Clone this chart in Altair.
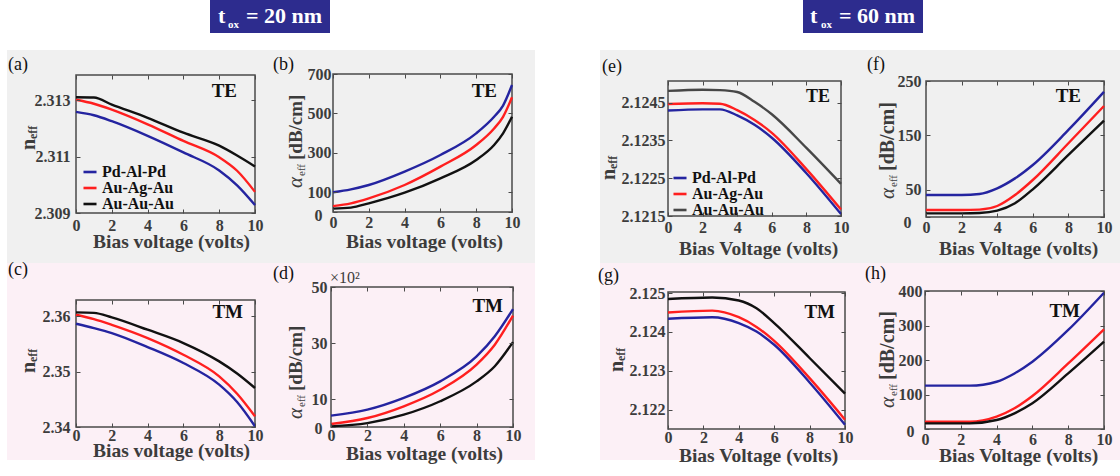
import altair as alt
import pandas as pd

SERIF = "Liberation Serif"
SERIES = ["Pd-Al-Pd", "Au-Ag-Au", "Au-Au-Au"]
LINE_COLORS = ["#2424a0", "#ff1f1f", "#111111"]
LINE_COLORS_E = ["#2424a0", "#ff1f1f", "#474747"]
XTICKS = [0, 2, 4, 6, 8, 10]

# (a) TE, t_ox = 20 nm, n_eff
A_X = [0, 1, 2, 4, 6, 8, 9, 10]
A_PD = [2.31259, 2.31247, 2.31226, 2.31174, 2.31115, 2.31051, 2.30998, 2.30928]
A_AG = [2.31302, 2.31288, 2.31267, 2.31215, 2.31156, 2.31098, 2.31050, 2.30975]
A_AU = [2.31311, 2.31310, 2.31285, 2.31238, 2.31185, 2.31139, 2.31104, 2.31065]
A_YTICKS = [2.309, 2.311, 2.313]

# (b) TE, t_ox = 20 nm, alpha_eff [dB/cm]
B_X = [0, 1, 2, 4, 6, 8, 9, 9.5, 10]
B_PD = [100, 115, 137, 205, 289, 399, 483, 540, 644]
B_AG = [30, 44, 69, 137, 230, 340, 424, 483, 582]
B_AU = [17, 22, 44, 98, 171, 264, 340, 399, 483]
B_YTICKS = [0, 100, 300, 500, 700]

# (c) TM, t_ox = 20 nm, n_eff
C_X = [0, 1, 2, 4, 6, 8, 9, 10]
C_PD = [2.35862, 2.35784, 2.35694, 2.35441, 2.35153, 2.34763, 2.34450, 2.34013]
C_AG = [2.36024, 2.35946, 2.35843, 2.35604, 2.35303, 2.34913, 2.34600, 2.34192]
C_AU = [2.36067, 2.36058, 2.35977, 2.35754, 2.35514, 2.35183, 2.34965, 2.34703]
C_YTICKS = [2.34, 2.35, 2.36]

# (d) TM, t_ox = 20 nm, alpha_eff (x10^2 dB/cm)
D_X = [0, 2, 4, 6, 8, 9, 10]
D_PD = [4.05, 6.2, 10.4, 16.3, 25.2, 32.4, 42.1]
D_AG = [1.07, 3.2, 7.4, 13.3, 22.3, 29.4, 39.8]
D_AU = [0.24, 1.4, 4.4, 9.2, 16.3, 21.7, 30.3]
D_YTICKS = [0, 10, 30, 50]

# (e) TE, t_ox = 60 nm, n_eff
E_X = [0, 2, 3, 4, 5, 6, 8, 10]
E_PD = [2.12429, 2.12432, 2.12432, 2.12416, 2.12391, 2.12357, 2.12263, 2.12155]
E_AG = [2.12446, 2.12448, 2.12447, 2.12430, 2.12404, 2.12370, 2.12274, 2.12167]
E_AU = [2.12481, 2.12484, 2.12483, 2.12478, 2.12452, 2.12419, 2.12330, 2.12235]
E_YTICKS = [2.1215, 2.1225, 2.1235, 2.1245]

# (f) TE, t_ox = 60 nm, alpha_eff [dB/cm]
F_X = [0, 2, 3, 4, 5, 6, 8, 10]
F_PD = [40.4, 40.4, 42.3, 52.7, 71.0, 95.6, 160, 230]
F_AG = [12.9, 12.9, 13.5, 20.2, 40.4, 68.0, 135.5, 204]
F_AU = [6.7, 6.7, 7.3, 11.6, 25.2, 50.9, 114, 177]
F_YTICKS = [0, 50, 150, 250]

# (g) TM, t_ox = 60 nm, n_eff
G_X = [0, 2.5, 4, 5, 6, 8, 10]
G_PD = [2.12434, 2.12438, 2.12423, 2.12401, 2.12367, 2.12270, 2.12161]
G_AG = [2.12450, 2.12455, 2.12438, 2.12413, 2.12377, 2.12281, 2.12174]
G_AU = [2.12485, 2.12489, 2.12481, 2.12461, 2.12423, 2.12333, 2.12241]
G_YTICKS = [2.122, 2.123, 2.124, 2.125]

# (h) TM, t_ox = 60 nm, alpha_eff [dB/cm]
H_X = [0, 2.5, 4, 5, 6, 8, 10]
H_PD = [125.6, 125.6, 137, 161, 195, 287, 395]
H_AG = [21, 21, 35.7, 60, 95.6, 190, 289]
H_AU = [16.4, 16.4, 26, 45.4, 74.5, 161, 253]
H_YTICKS = [0, 100, 200, 300, 400]

AXIS_GRAY = "#3c3c3c"
FRAME = "#4a4a4a"
W, H = 1120, 476

PANELS = [
    dict(xs=A_X, ys=[A_PD, A_AG, A_AU], ydom=[2.309, 2.3139], yt=A_YTICKS, fmt=".3f",
         box=(76, 255, 75, 213), xlp=4, ylp=6, z=None, xtitle="Bias voltage (volts)",
         tx=171, tb=247, colors=LINE_COLORS, legend=(82, 164)),
    dict(xs=B_X, ys=[B_PD, B_AG, B_AU], ydom=[0, 700], yt=B_YTICKS, fmt="d",
         box=(333, 512, 74, 212), xlp=2, ylp=2, z=(11, 3), xtitle="Bias voltage (volts)",
         tx=424, tb=247, colors=LINE_COLORS, legend=None),
    dict(xs=C_X, ys=[C_PD, C_AG, C_AU], ydom=[2.34, 2.3629], yt=C_YTICKS, fmt=".2f",
         box=(76, 255, 300, 427), xlp=0, ylp=6, z=None, xtitle="Bias voltage (volts)",
         tx=171, tb=456, colors=LINE_COLORS, legend=None),
    dict(xs=D_X, ys=[D_PD, D_AG, D_AU], ydom=[0, 50], yt=D_YTICKS, fmt="d",
         box=(331, 513, 287, 427), xlp=0, ylp=4, z=(9, 1), xtitle="Bias voltage (volts)",
         tx=424, tb=459, colors=LINE_COLORS, legend=None),
    dict(xs=E_X, ys=[E_PD, E_AG, E_AU], ydom=[2.1215, 2.12507], yt=E_YTICKS, fmt=".4f",
         box=(668, 841, 81, 216), xlp=3, ylp=3, z=None, xtitle="Bias Voltage (volts)",
         tx=758, tb=254, colors=LINE_COLORS_E, legend=(672, 170)),
    dict(xs=F_X, ys=[F_PD, F_AG, F_AU], ydom=[0, 250], yt=F_YTICKS, fmt="d",
         box=(926, 1104, 81, 217), xlp=2, ylp=5, z=(15, 5), xtitle="Bias Voltage (volts)",
         tx=1018, tb=254, colors=LINE_COLORS, legend=None),
    dict(xs=G_X, ys=[G_PD, G_AG, G_AU], ydom=[2.1215, 2.12503], yt=G_YTICKS, fmt=".3f",
         box=(668, 845, 292, 429), xlp=0, ylp=3, z=None, xtitle="Bias Voltage (volts)",
         tx=758, tb=461, colors=LINE_COLORS, legend=None),
    dict(xs=H_X, ys=[H_PD, H_AG, H_AU], ydom=[0, 400], yt=H_YTICKS, fmt="d",
         box=(925, 1104, 291, 429), xlp=2, ylp=3, z=(11, 2), xtitle="Bias Voltage (volts)",
         tx=1018, tb=461, colors=LINE_COLORS, legend=None),
]


def one():
    return pd.DataFrame({"k": [0]})


def rect(x0, x1, y0, y1, color):
    return alt.Chart(one()).mark_rect(color=color).encode(
        x=alt.value(x0), x2=alt.value(x1), y=alt.value(y0), y2=alt.value(y1))


def txt(s, x, y, size, weight="bold", angle=0, align="left", color="#000000", style="normal"):
    return alt.Chart(pd.DataFrame({"t": [s]})).mark_text(
        font=SERIF, fontSize=size, fontWeight=weight, angle=angle, align=align,
        baseline="alphabetic", color=color, fontStyle=style
    ).encode(x=alt.value(x), y=alt.value(y), text="t:N")


def tick_axis(orient, offset, values):
    # tick-only axis used for the inward ticks of the boxed frame
    return alt.Axis(orient=orient, offset=offset, values=values, labels=False, domain=False,
                    ticks=True, tickSize=4, tickWidth=1, tickColor=FRAME, grid=False,
                    title=None, zindex=1)


def panel(p):
    x0, x1, yt, yb = p["box"]
    rows = []
    for name, ys in zip(SERIES, p["ys"]):
        for xv, yv in zip(p["xs"], ys):
            rows.append({"v": xv, "n": yv, "s": name})
    df = pd.DataFrame(rows)
    xsc = alt.Scale(domain=[0, 10], range=[x0, x1], nice=False, zero=False)
    ysc = alt.Scale(domain=p["ydom"], range=[yb, yt], nice=False, zero=False)
    xaxis = alt.Axis(
        orient="bottom", offset=yb - H, values=XTICKS, format="d", domain=False, ticks=False,
        grid=False, labelFont=SERIF, labelFontSize=16, labelFontWeight="bold",
        labelColor=AXIS_GRAY, labelPadding=p["xlp"], labelFlush=False, labelOverlap=False,
        title=p["xtitle"], titleFont=SERIF, titleFontSize=19.5, titleFontWeight="bold",
        titleColor=AXIS_GRAY, titleX=p["tx"], titleY=p["tb"] - yb, titleBaseline="alphabetic",
        titleAlign="center", zindex=1)
    ykw = {}
    if p["z"] is not None:
        ykw["labelPadding"] = {"condition": {"test": "datum.value === 0", "value": p["z"][0]},
                               "value": p["ylp"]}
        ykw["labelOffset"] = {"condition": {"test": "datum.value === 0", "value": p["z"][1]},
                              "value": 0}
    else:
        ykw["labelPadding"] = p["ylp"]
    yaxis = alt.Axis(
        orient="left", offset=-x0, values=p["yt"], format=p["fmt"], domain=False, ticks=False,
        grid=False, labelFont=SERIF, labelFontSize=16, labelFontWeight="bold",
        labelColor=AXIS_GRAY, labelFlush=False, labelOverlap=False,
        title=None, zindex=1, **ykw)
    if p["legend"] is None:
        leg = None
    else:
        leg = alt.Legend(orient="none", legendX=p["legend"][0], legendY=p["legend"][1],
                         symbolType="stroke", symbolStrokeWidth=2.6, symbolSize=170,
                         labelFont=SERIF, labelFontSize=16, labelFontWeight="bold",
                         labelColor="#111111", rowPadding=0, padding=0,
                         title=None, labelOffset=4)
    fdf = pd.DataFrame({"a": [0], "b": [10], "c": [p["ydom"][0]], "d": [p["ydom"][1]]})
    # frame with inward ticks on the top and left edges
    frame = alt.Chart(fdf).mark_rect(fill="transparent", stroke=FRAME, strokeWidth=1.5).encode(
        x=alt.X("a:Q", scale=xsc, axis=tick_axis("bottom", yt - H, XTICKS)), x2="b:Q",
        y=alt.Y("c:Q", scale=ysc, axis=tick_axis("right", x0 - W, p["yt"])), y2="d:Q")
    # invisible companion carrying inward ticks on the bottom and right edges
    ticks2 = alt.Chart(fdf).mark_rect(opacity=0).encode(
        x=alt.X("a:Q", scale=xsc, axis=tick_axis("top", -yb, XTICKS)), x2="b:Q",
        y=alt.Y("c:Q", scale=ysc, axis=tick_axis("left", -x1, p["yt"])), y2="d:Q")
    lines = alt.Chart(df).mark_line(strokeWidth=2.4, interpolate="monotone").encode(
        x=alt.X("v:Q", scale=xsc, axis=xaxis),
        y=alt.Y("n:Q", scale=ysc, axis=yaxis),
        color=alt.Color("s:N", scale=alt.Scale(domain=SERIES, range=p["colors"]), legend=leg),
    )
    return [frame, ticks2, lines]


GRAY_BG = "#f0f0f0"
PINK_BG = "#fcf0f6"
BOX = "#2d2c8e"

layers = [
    rect(7, 535, 50, 263, GRAY_BG),
    rect(600, 1120, 50, 263, GRAY_BG),
    rect(7, 535, 263, 460, PINK_BG),
    rect(600, 1120, 263, 460, PINK_BG),
    rect(210, 330, 0, 33, BOX),
    rect(803, 923, 0, 33, BOX),
    txt("t", 218, 23, 22, color="#ffffff"),
    txt("ox", 228, 28, 11, color="#ffffff"),
    txt("= 20 nm", 246, 23, 22, color="#ffffff"),
    txt("t", 810, 23, 22, color="#ffffff"),
    txt("ox", 821, 28, 11, color="#ffffff"),
    txt("= 60 nm", 839, 23, 22, color="#ffffff"),
]

for p in PANELS:
    layers += panel(p)

# panel letters
for s, x, y in [("(a)", 8, 70), ("(b)", 273, 70), ("(c)", 8, 275), ("(d)", 273, 279),
                ("(e)", 602, 72), ("(f)", 867, 70), ("(g)", 598, 281), ("(h)", 865, 279)]:
    layers.append(txt(s, x, y, 18, weight="normal", color="#111111"))

# polarisation labels
for s, x, y, size in [("TE", 237, 97, 19), ("TE", 497, 97, 19), ("TM", 243, 318, 19),
                      ("TM", 503, 312, 19), ("TE", 830, 102, 18), ("TE", 1081, 102, 19),
                      ("TM", 835, 318, 19), ("TM", 1080, 317, 19)]:
    layers.append(txt(s, x, y, size, align="right", color="#111111"))

# n_eff axis titles
for x, y in [(35, 150), (35, 373), (615, 180), (623, 372)]:
    layers.append(txt("n", x, y, 20, angle=270, color=AXIS_GRAY))
    layers.append(txt("eff", x + 2, y - 11, 12, angle=270, color=AXIS_GRAY))

# alpha_eff axis titles
for x, y, fs in [(302, 188, 19), (302, 419, 19), (894, 199, 20), (894, 408, 20)]:
    layers.append(txt("α", x, y, 21, weight="normal", angle=270, color=AXIS_GRAY, style="italic"))
    layers.append(txt("eff", x + 3, y - 12, 11, weight="normal", angle=270, color=AXIS_GRAY))
    layers.append(txt("[dB/cm]", x, y - 28, fs, angle=270, color=AXIS_GRAY))

layers.append(txt("×10²", 330, 283, 16, weight="normal", color=AXIS_GRAY))

chart = alt.layer(*layers).resolve_scale(
    x="independent", y="independent", color="independent"
).properties(
    width=W, height=H, autosize=alt.AutoSizeParams(type="none"), padding=0, background="white"
).configure_view(strokeWidth=0)

chart.save("out.html", embed_options={"renderer": "svg", "actions": False})
